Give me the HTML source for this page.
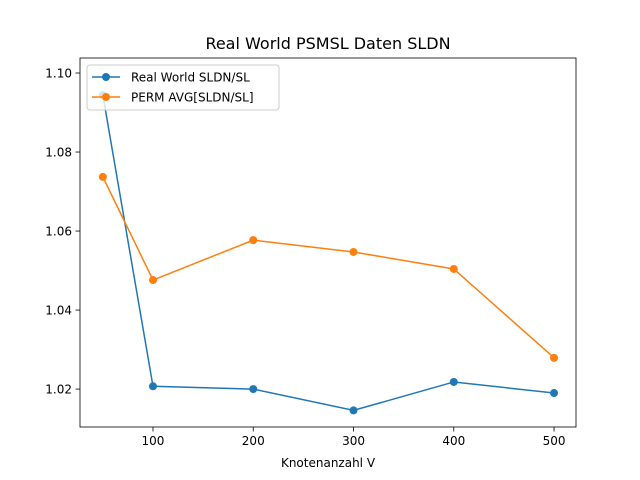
<!DOCTYPE html>
<html><head><meta charset="utf-8"><style>
body{margin:0;background:#fff;}
svg{display:block;font-family:"DejaVu Sans","Liberation Sans",sans-serif;}
</style></head><body>
<svg id="chart" width="640" height="480">
<rect width="640" height="480" fill="#fff"/>
</svg>
<script>
const xs=[50,100,200,300,400,500];
const blueVals=[1.0944,1.0207,1.0200,1.0146,1.0218,1.0190];
const orangeVals=[1.0737,1.0476,1.0577,1.0547,1.0504,1.0279];
const xTicks=[100,200,300,400,500];
const yTicks=[1.02,1.04,1.06,1.08,1.10];
const L=80,R=576,T=58,B=427;
const xMin=27.2,xMax=521.9,yMin=1.0104,yMax=1.1038;
const X=v=>L+(v-xMin)/(xMax-xMin)*(R-L);
const Y=v=>B-(v-yMin)/(yMax-yMin)*(B-T);
const svg=document.getElementById('chart');
const NS='http://www.w3.org/2000/svg';
function mk(t,a,p){const e=document.createElementNS(NS,t);for(const k in a)e.setAttribute(k,a[k]);(p||svg).appendChild(e);return e;}
let title=mk('text',{x:328,y:49,'text-anchor':'middle','font-size':16});title.textContent='Real World PSMSL Daten SLDN';

xTicks.forEach(v=>{const g=mk('g',{});

mk('line',{x1:X(v),x2:X(v),y1:B,y2:B+4.5,stroke:'#000','stroke-width':0.8},g);
const t=mk('text',{x:X(v),y:B+18,'text-anchor':'middle','font-size':12},g);t.textContent=v;});
yTicks.forEach(v=>{const g=mk('g',{});

mk('line',{x1:L-4.5,x2:L,y1:Y(v),y2:Y(v),stroke:'#000','stroke-width':0.8},g);
const t=mk('text',{x:L-8,y:Y(v)+4.5,'text-anchor':'end','font-size':12},g);t.textContent=v.toFixed(2);});
let xl=mk('text',{x:328,y:467,'text-anchor':'middle','font-size':12});xl.textContent='Knotenanzahl V';

function series(vals,col,name){const g=mk('g',{});

mk('polyline',{points:xs.map((x,i)=>X(x)+','+Y(vals[i])).join(' '),fill:'none',stroke:col,'stroke-width':1.5},g);
xs.forEach((x,i)=>{const c=mk('circle',{cx:X(x),cy:Y(vals[i]),r:4,fill:col},g);
});}
series(blueVals,'#1f77b4','series-real-world');
series(orangeVals,'#ff7f0e','series-perm-avg');
let fr=mk('rect',{x:L,y:T,width:R-L,height:B-T,fill:'none',stroke:'#000','stroke-width':0.8});

const lg=mk('g',{});
mk('rect',{x:87,y:65,width:192,height:45,rx:3,fill:'#fff','fill-opacity':0.8,stroke:'#ccc'},lg);
[['Real World SLDN/SL','#1f77b4'],['PERM AVG[SLDN/SL]','#ff7f0e']].forEach((d,i)=>{
const y=77+i*20;const e=mk('g',{},lg);

mk('line',{x1:92,x2:120,y1:y,y2:y,stroke:d[1],'stroke-width':1.5},e);
mk('circle',{cx:106,cy:y,r:4,fill:d[1]},e);
const t=mk('text',{x:131,y:y+4.5,'font-size':12},e);t.textContent=d[0];});
</script>
</body></html>
